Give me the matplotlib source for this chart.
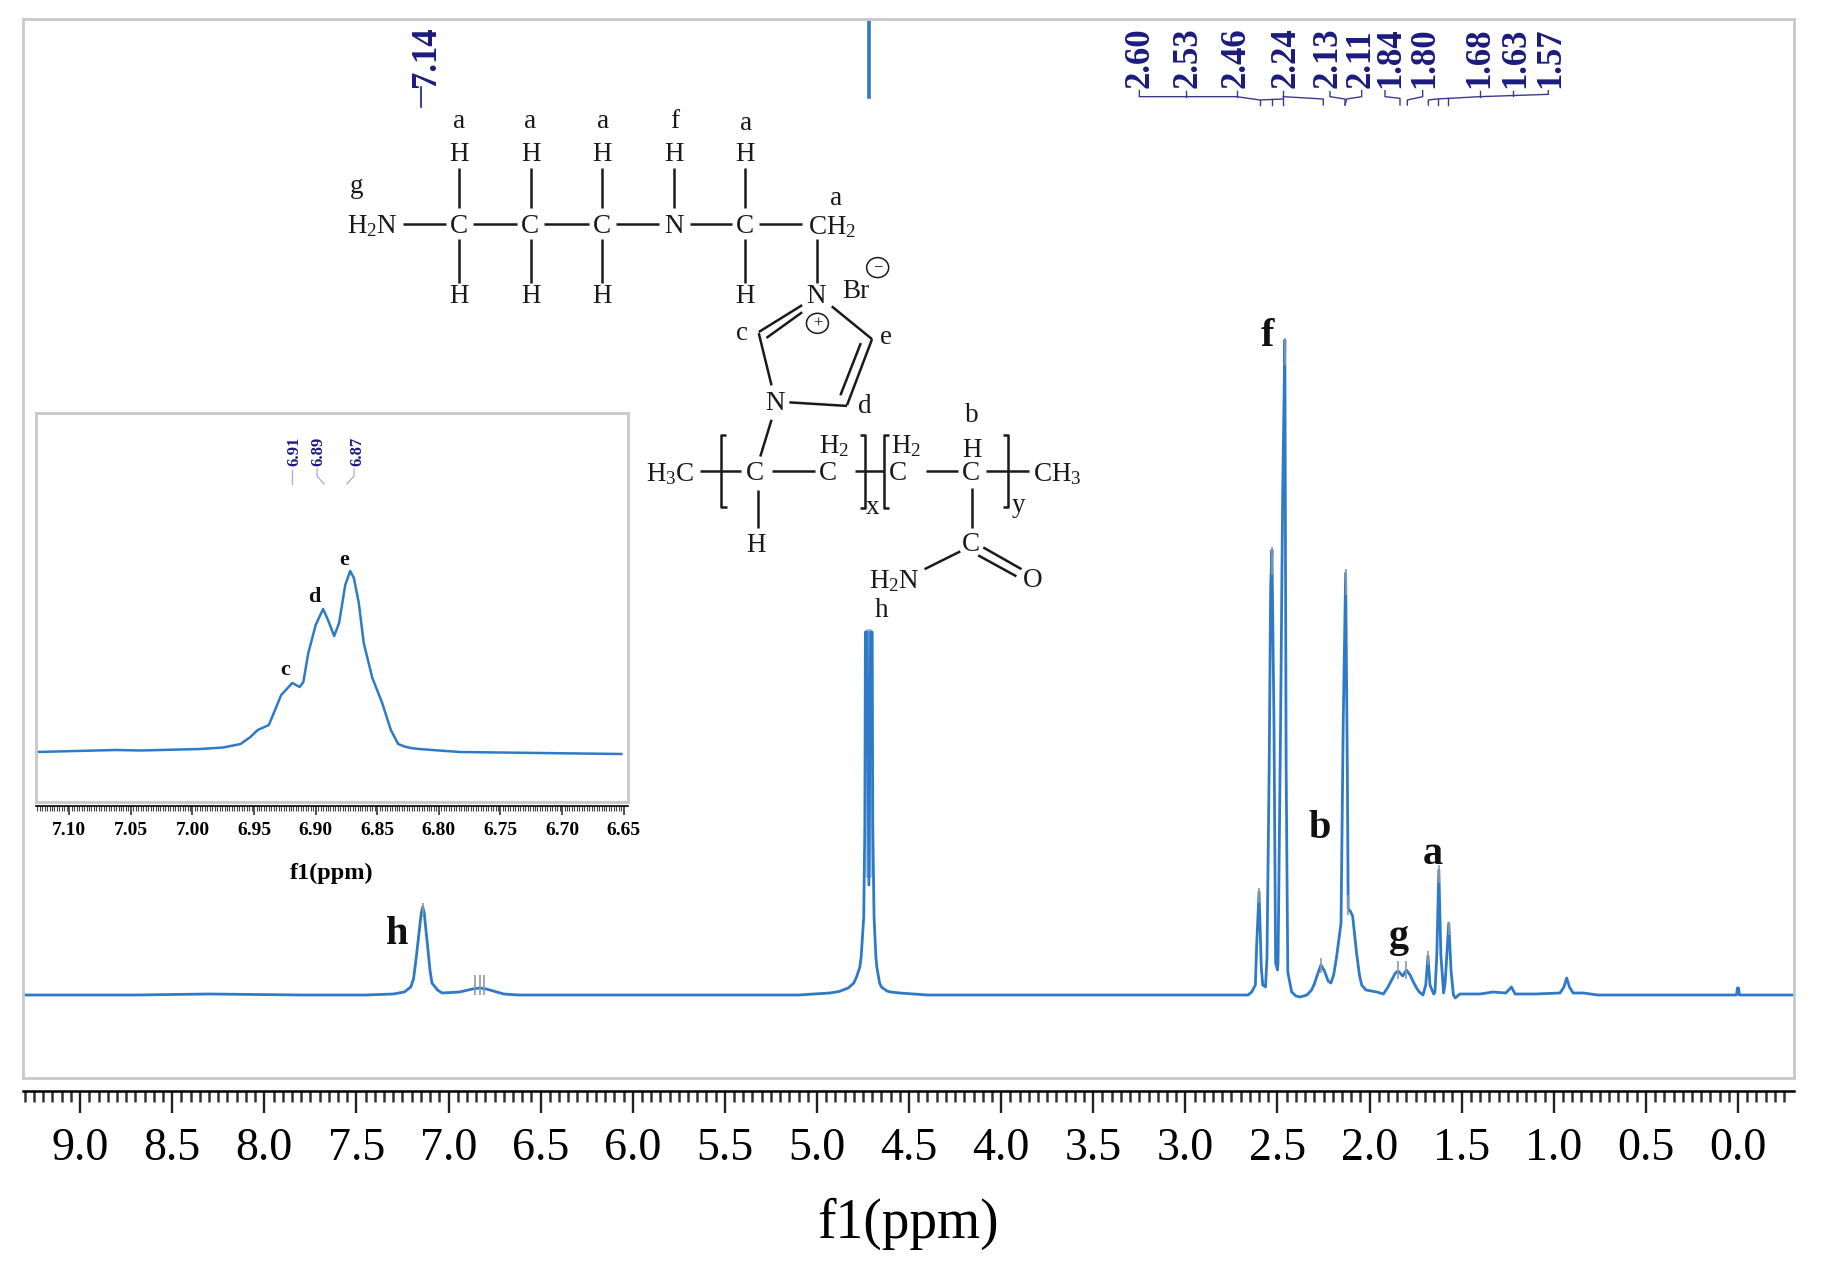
import matplotlib
matplotlib.use("Agg")
import matplotlib.pyplot as plt
from matplotlib.patches import Ellipse

plt.rcParams['font.family'] = ['Liberation Serif', 'DejaVu Sans']
plt.rcParams['mathtext.fontset'] = 'custom'
plt.rcParams['mathtext.rm'] = 'Liberation Serif'
plt.rcParams['mathtext.default'] = 'regular'

W, H = 1824, 1282
BLUE = '#2f7ac6'
NAVY = '#1b1b7e'
GRAY = '#c9c9c9'

# main spectrum (ppm, height)
ppm = [9.31, 8.7, 8.3, 7.8, 7.45, 7.30, 7.24, 7.205, 7.19, 7.175, 7.16, 7.148, 7.14, 7.132, 7.12, 7.11, 7.10, 7.09,
       7.06, 7.035, 6.94, 6.87, 6.83, 6.795, 6.70, 6.62, 6.0, 5.5, 5.10, 4.93, 4.88, 4.83, 4.80, 4.785, 4.767, 4.76,
       4.752, 4.746, 4.74, 4.737,
       4.728, 4.718, 4.709, 4.70, 4.697, 4.69, 4.68, 4.675, 4.66, 4.65, 4.62, 4.60, 4.55, 4.4, 3.8, 3.2, 2.8, 2.66,
       2.64, 2.62,
       2.613, 2.60, 2.588, 2.58, 2.573, 2.565, 2.557, 2.545, 2.537, 2.53, 2.519, 2.51, 2.50, 2.497, 2.483, 2.472,
       2.46, 2.453, 2.444, 2.423, 2.40, 2.378, 2.34, 2.315, 2.30, 2.28, 2.264, 2.245, 2.225, 2.21, 2.195, 2.18, 2.155,
       2.143, 2.13,
       2.121, 2.116, 2.105, 2.092, 2.07, 2.055, 2.043, 2.02, 1.96, 1.925, 1.90, 1.88, 1.86, 1.845, 1.82, 1.80, 1.78,
       1.765, 1.745, 1.73, 1.71,
       1.695, 1.683, 1.672, 1.652, 1.645, 1.635, 1.624, 1.613, 1.598, 1.59, 1.57, 1.558, 1.545, 1.535, 1.51,
       1.40, 1.33, 1.26, 1.23, 1.21, 1.10, 0.966, 0.945, 0.93, 0.915, 0.895, 0.84, 0.76, 0.40, 0.008, 0.003, -0.003,
       -0.008, -0.304]
intensity = [0, 0, 1, 0, 0, 1, 3, 8, 16, 38, 62, 82, 88, 82, 60, 42, 24, 12,
             5, 2, 3, 6, 7, 6, 1, 0, 0, 0, 0, 2, 3.5, 7, 12, 18, 28, 38,
             60, 78, 170, 363,
             363, 110, 363, 363, 170, 78, 38, 28, 12, 8, 4, 3, 2, 0, 0, 0, 0, 0,
             3, 10,
             50, 103, 28, 10, 9, 8, 37, 229, 408, 445, 273, 32, 25, 32, 273, 497,
             655, 229, 23, 3, -1, -2, 0, 5, 11, 22, 30, 24, 14, 12, 20, 37, 72,
             273, 422,
             229, 86, 84, 79, 41, 20, 10, 5, 3, 1, 8, 15, 22, 24, 19, 25, 20,
             14, 7, 3, 0,
             10, 39, 10, 1, 3, 40, 125, 40, 2, 12, 72, 25, 0, -3, 1,
             1, 3, 2, 8, 1, 1, 2, 8, 17, 8, 2, 2, 0, 0, 0, 7, 7,
             0, 0]

# the top of the solvent peak that is cut off
cut_ppm = [4.72, 4.72]
cut_height = [898, 973]

# pale part between the two lines of the solvent doublet
pale_ppm = [4.7185, 4.7185]
pale_height = [120, 363]

# grey peak picking ticks
tip_ppm = [7.14, 6.855, 6.83, 6.81, 2.60, 2.53, 2.46, 2.264, 2.13, 2.116, 1.845, 1.80, 1.683, 1.624, 1.57]
tip_low = [78, 0, 0, 0, 92, 420, 630, 22, 400, 80, 16, 16, 30, 112, 60]
tip_high = [92, 20, 20, 20, 107, 448, 657, 37, 426, 100, 34, 34, 44, 130, 73]

major_ticks = [9.0, 8.5, 8.0, 7.5, 7.0, 6.5, 6.0, 5.5, 5.0, 4.5, 4.0, 3.5, 3.0, 2.5, 2.0, 1.5, 1.0, 0.5, 0.0]
major_text = ['9.0', '8.5', '8.0', '7.5', '7.0', '6.5', '6.0', '5.5', '5.0', '4.5', '4.0', '3.5', '3.0', '2.5',
              '2.0', '1.5', '1.0', '0.5', '0.0']

# inset spectrum
ins_ppm = [7.127, 7.062, 7.042, 6.994, 6.975, 6.965, 6.961, 6.953, 6.947, 6.938, 6.933, 6.928, 6.919, 6.913, 6.910,
           6.906, 6.900, 6.894, 6.890, 6.885, 6.881, 6.876, 6.872, 6.869, 6.865, 6.861, 6.854, 6.846, 6.839, 6.833,
           6.828, 6.823, 6.816, 6.80, 6.783, 6.719, 6.652]
ins_height = [2, 4, 3.5, 5, 6.5, 9, 10, 17, 24, 29, 44, 59, 71, 67, 72,
              101, 129, 145, 134, 118, 131, 169, 183, 176, 151, 111, 76, 51, 24, 10,
              7.5, 6, 5, 3.5, 2, 1, 0]

ins_ticks = [7.10, 7.05, 7.00, 6.95, 6.90, 6.85, 6.80, 6.75, 6.70, 6.65]
ins_text = ['7.10', '7.05', '7.00', '6.95', '6.90', '6.85', '6.80', '6.75', '6.70', '6.65']

top_labels = ['2.60', '2.53', '2.46', '2.24', '2.13', '2.11', '1.84', '1.80', '1.68', '1.63', '1.57']
top_x = [1140, 1188, 1236, 1286, 1328, 1361, 1391, 1425, 1480, 1516, 1551]

fig = plt.figure(figsize=(W / 100, H / 100), dpi=100, facecolor='white')


def box(x0, y0, x1, y1):
    return [x0 / W, 1 - y1 / H, (x1 - x0) / W, (y1 - y0) / H]


# main axes
ax = fig.add_axes(box(23, 19, 1794, 1078))
ax.plot(pale_ppm, pale_height, color='#8dbbe6', lw=4)
ax.plot(ppm, intensity, color=BLUE, lw=2.0, solid_joinstyle='round')
ax.plot(cut_ppm, cut_height, color=BLUE, lw=2.6)
ax.vlines(tip_ppm, tip_low, tip_high, color='#8f98a3', lw=1.2)
ax.set_xlim(9.31, -0.304)
ax.set_ylim(-83, 976)
ax.set_xticks([])
ax.set_yticks([])
for s in ax.spines.values():
    s.set_color(GRAY)
    s.set_linewidth(2)

sec = ax.secondary_xaxis(-13 / 1059)
minor_main = [9.3 - 0.05 * i for i in range(192)]
sec.set_xticks(major_ticks, major_text)
sec.set_xticks(minor_main, minor=True)
sec.spines['bottom'].set_linewidth(1.8)
sec.tick_params(which='major', length=15.5, width=1.7, labelsize=33, pad=11, color='#222222')
sec.tick_params(which='minor', length=8, width=1.8, color='#333333')
sec.set_xlabel('f1(ppm)', fontsize=40, labelpad=20)

# inset
ins = fig.add_axes(box(36, 413, 628, 802))
ins.plot(ins_ppm, ins_height, color=BLUE, lw=1.8, solid_joinstyle='round')
ins.set_xlim(7.127, 6.6465)
ins.set_ylim(-48, 341)
ins.set_xticks([])
ins.set_yticks([])
for s in ins.spines.values():
    s.set_color(GRAY)
    s.set_linewidth(2)

sec2 = ins.secondary_xaxis(-4 / 389)
sec2.set_xticks(ins_ticks, ins_text, fontweight='bold')
sec2.set_xticks([7.126 - 0.002 * i for i in range(239)], minor=True)
sec2.spines['bottom'].set_linewidth(1.2)
sec2.tick_params(which='major', length=6.5, width=1.2, labelsize=14, pad=5, color='#333333')
sec2.tick_params(which='minor', length=3.5, width=0.8, color='#444444')
sec2.set_xlabel('f1(ppm)', fontsize=17.5, fontweight='bold', labelpad=17)

# overlay in picture pixels for the labels and the drawn structure
ov = fig.add_axes([0, 0, 1, 1])
ov.set_xlim(0, W)
ov.set_ylim(H, 0)
ov.axis('off')
ov.patch.set_alpha(0)

# peak letters
for s, x, y in [('f', 1267, 336), ('b', 1320, 828), ('a', 1433, 855), ('g', 1399, 937), ('h', 397, 934)]:
    ov.text(x, y, s, fontsize=29, fontweight='bold', ha='center', va='center', color='#111111')
for s, x, y in [('c', 285, 670), ('d', 314, 597), ('e', 344, 560)]:
    ov.text(x, y, s, fontsize=16, fontweight='bold', ha='center', va='center', color='#111111')

# main peak labels
for s, x in zip(top_labels, top_x):
    ov.text(x, 88, s, rotation=90, fontsize=25, fontweight='bold', color=NAVY, ha='center', va='bottom')
ov.text(427, 87, '7.14', rotation=90, fontsize=25, fontweight='bold', color=NAVY, ha='center', va='bottom')
ov.plot([421, 421], [87, 107], color=NAVY, lw=1.2)


def b2(points):
    xs = [1100 + p[0] / 3 for p in points]
    ys = [p[1] / 3 for p in points]
    ov.plot(xs, ys, color='#3a3a8c', lw=1.0)


for pts in [
    [(118, 272), (118, 290), (410, 290), (480, 300), (550, 297)],
    [(258, 272), (258, 290)], [(410, 272), (410, 290)],
    [(480, 300), (480, 315)], [(515, 298), (515, 315)], [(550, 272), (550, 315)],
    [(550, 290), (670, 297), (670, 315)],
    [(690, 275), (690, 290), (735, 297), (735, 315)],
    [(785, 272), (785, 290), (740, 297), (735, 315)],
    [(855, 272), (855, 290), (900, 295), (900, 315)],
    [(968, 272), (968, 290), (922, 300), (922, 315)],
    [(1345, 272), (1345, 283), (1140, 290), (1010, 297), (985, 300), (985, 315)],
    [(1240, 272), (1240, 287)], [(1140, 272), (1140, 290)],
    [(1015, 297), (1015, 315)], [(1045, 295), (1045, 315)],
]:
    b2(pts)

# inset peak labels
for s, x in [('6.91', 294), ('6.89', 318), ('6.87', 357)]:
    ov.text(x, 466, s, rotation=90, fontsize=12, fontweight='bold', color=NAVY, ha='center', va='bottom')
ov.plot([292, 292], [470, 484], color='#a9a9c9', lw=0.9)
ov.plot([317, 317, 324], [469, 476, 484], color='#a9a9c9', lw=0.9)
ov.plot([354, 354, 347], [469, 476, 484], color='#a9a9c9', lw=0.9)


# structure, coordinates from the crop at 1.96 x 2.53
def sx(x):
    return 320 + x / 1.96


def sy(y):
    return y / 2.53


def atom(s, x, y, size=19.5):
    ov.text(sx(x), sy(y), s, fontsize=size, ha='center', va='center', color='#1a1a1a')


def bond(*pts):
    ov.plot([sx(p[0]) for p in pts], [sy(p[1]) for p in pts], color='#1a1a1a', lw=1.8, solid_capstyle='butt')


for s, x, y in [('a', 272, 307), ('a', 411, 307), ('a', 554, 307), ('f', 695, 307), ('a', 835, 312),
                ('H', 273, 392), ('H', 413, 392), ('H', 553, 392), ('H', 694, 392), ('H', 833, 392),
                ('g', 72, 473), ('H$_2$N', 103, 572), ('C', 272, 572), ('C', 412, 572), ('C', 552, 572),
                ('N', 693, 572), ('C', 832, 572), ('CH$_2$', 1003, 575), ('a', 1012, 503),
                ('H', 273, 750), ('H', 413, 750), ('H', 553, 750), ('H', 833, 750),
                ('N', 972, 750), ('Br', 1050, 737), ('c', 828, 843), ('e', 1110, 855), ('d', 1067, 1028),
                ('N', 892, 1022), ('b', 1277, 1050), ('H$_2$', 1008, 1130), ('H$_2$', 1148, 1130), ('H', 1278, 1140),
                ('H$_3$C', 687, 1200), ('C', 853, 1197), ('C', 995, 1197), ('C', 1133, 1197), ('C', 1275, 1197),
                ('CH$_3$', 1445, 1200), ('H', 855, 1380), ('C', 1275, 1378), ('O', 1397, 1468),
                ('H$_2$N', 1125, 1470), ('h', 1100, 1545), ('x', 1083, 1285), ('y', 1368, 1278)]:
    atom(s, x, y)

for x in [273, 413, 553, 833]:
    bond((x, 425), (x, 525))
    bond((x, 605), (x, 715))
bond((694, 425), (694, 525))
for a, b in [(163, 247), (300, 387), (440, 527), (580, 665), (725, 808), (860, 945)]:
    bond((a, 567), (b, 567))
for pts in [[(975, 605), (975, 715)],
            [(945, 772), (860, 840)], [(945, 790), (875, 855)],
            [(1003, 775), (1082, 858)], [(1082, 858), (1033, 1025)], [(1060, 868), (1020, 1000)],
            [(1033, 1027), (920, 1018)], [(860, 843), (885, 975)], [(885, 1062), (863, 1155)],
            [(858, 1240), (858, 1335)], [(745, 1192), (825, 1192)], [(885, 1192), (970, 1192)],
            [(1048, 1192), (1105, 1192)], [(1187, 1192), (1250, 1192)], [(1305, 1192), (1390, 1192)],
            [(795, 1100), (785, 1100), (785, 1282), (797, 1282)],
            [(1058, 1100), (1068, 1100), (1068, 1285), (1058, 1285)],
            [(1115, 1100), (1105, 1100), (1105, 1285), (1115, 1285)],
            [(1338, 1100), (1348, 1100), (1348, 1282), (1338, 1282)],
            [(1278, 1235), (1278, 1335)], [(1300, 1385), (1375, 1440)], [(1290, 1405), (1365, 1458)],
            [(1255, 1395), (1185, 1440)]]:
    bond(*pts)

for x, y, s in [(1093, 677, '−'), (975, 818, '+')]:
    ov.add_patch(Ellipse((sx(x), sy(y)), 22, 20, fill=False, ec='#1a1a1a', lw=1.1))
    ov.text(sx(x), sy(y), s, fontsize=12, ha='center', va='center', color='#1a1a1a')

fig.savefig('out.png', dpi=100, facecolor='white')
